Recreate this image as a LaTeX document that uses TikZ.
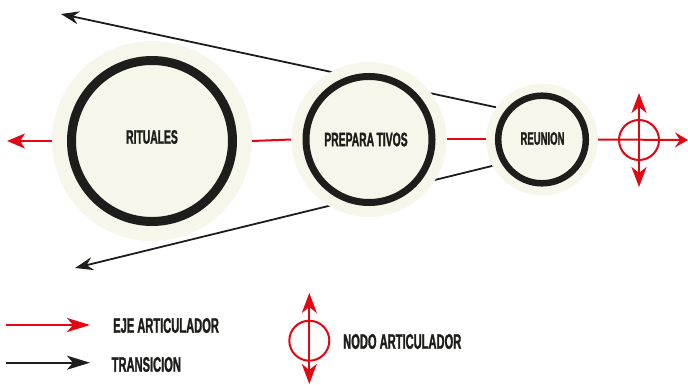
\documentclass[tikz,border=0pt]{standalone}
\usepackage{fontspec}
\newfontfamily\cond{Liberation Sans}[FakeStretch=0.53, BoldFeatures={FakeBold=1.3}]
\usetikzlibrary{arrows.meta,backgrounds}
\definecolor{axisred}{RGB}{227,6,19}
\definecolor{ink}{RGB}{29,29,27}
\definecolor{pale}{RGB}{246,247,234}
\begin{document}
\begin{tikzpicture}[x=1pt,y=-1pt,
  halo/.style={circle, fill=pale, draw=none, inner sep=0pt, minimum size=#1},
  ringline/.style={draw=ink, line width=#1},
  lbl/.style={font=\cond\bfseries\fontsize{19.5}{20}\selectfont, text=ink, inner sep=0pt},
  leglbl/.style={font=\cond\bfseries\fontsize{21}{22}\selectfont, text=ink, inner sep=0pt, anchor=west},
  axisline/.style={draw=axisred, line width=2pt},
  transline/.style={draw=ink, line width=1.8pt},
  redtip/.style={-{Stealth[length=#1,width=15pt,inset=5pt]}},
  blacktip/.style={-{Stealth[length=#1,width=13pt,inset=6pt]}},
  nodoring/.style={circle, draw=axisred, line width=2pt, inner sep=0pt, minimum size=#1},
  vtips/.style={{Stealth[length=20pt,width=15pt,inset=6pt]}-{Stealth[length=20pt,width=15pt,inset=6pt]}}
]
\useasboundingbox (0,0) rectangle (688,385);

% circles
\node[halo=200pt] (rit) at (152,141) {};
\node[halo=155pt] (prep) at (369,139.5) {};
\node[halo=112pt] (reu) at (542,139.5) {};
\draw[ringline=9pt] (rit.center) circle[radius=80.5pt];
\draw[ringline=7pt] (prep.center) circle[radius=63pt];
\draw[ringline=6.5pt] (reu.center) circle[radius=43.8pt];
\node[lbl] (ritT) at (152,137) {RITUALES};
\node[lbl] (prepT) at (366,139.5) {PREPARA\kern2.5pt TIVOS};
\node[lbl, font=\cond\bfseries\fontsize{18}{19}\selectfont] (reuT) at (542.5,138.5) {REUNION};

% free ends
\coordinate (tipL) at (7,141);
\coordinate (tipR) at (688,140);
\coordinate (tipUp) at (61,14);
\coordinate (tipDown) at (75,268);

\begin{scope}[on background layer]
  \draw[transline, blacktip=18pt] (reu.145) -- (tipUp);
  \draw[transline, blacktip=18pt] (reu.208) -- (tipDown);
  \draw[axisline, redtip=18pt] (rit.west) -- (tipL);
  \draw[axisline] (rit.east) -- (prep.west);
  \draw[axisline] (prep.east) -- (reu.west);
  \draw[axisline, redtip=13pt] (reu.east) -- (tipR);
\end{scope}

% nodo articulador on the axis
\node[nodoring=40pt] (nodo) at (639,140) {};
\coordinate (nodoTop) at (639,93);
\coordinate (nodoBot) at (639,187);
\draw[axisline, vtips] (nodoTop) -- (nodoBot);

% legend
\coordinate (legA1) at (6,325);
\coordinate (legA2) at (90,325);
\coordinate (legB1) at (6,362.7);
\coordinate (legB2) at (90,362.7);
\draw[axisline, -{Stealth[length=23pt,width=14pt,inset=6pt]}] (legA1) -- (legA2);
\draw[transline, -{Stealth[length=23pt,width=14pt,inset=6pt]}] (legB1) -- (legB2);
\node[leglbl] (legAT) at (113,325.5) {EJE ARTICULADOR};
\node[leglbl] (legBT) at (111.5,364.5) {TRANSICION};

\node[nodoring=40pt] (legnodo) at (309.3,340.7) {};
\coordinate (legTop) at (309.3,293);
\coordinate (legBot) at (309.3,384);
\draw[axisline, vtips] (legTop) -- (legBot);
\node[leglbl] (legCT) at (343,341.5) {NODO ARTICULADOR};
\end{tikzpicture}
\end{document}
